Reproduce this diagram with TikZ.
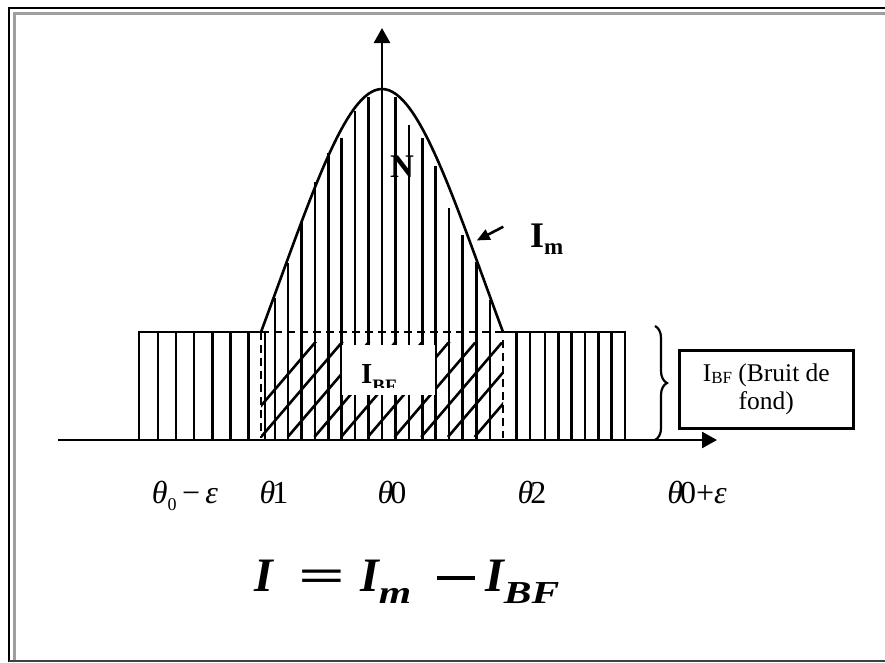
\documentclass[tikz,border=0pt]{standalone}
\usepackage{fontspec}
\setmainfont{Liberation Serif}
\usetikzlibrary{arrows.meta,decorations.pathreplacing}
\tikzset{
  hatch/.style={line width=2.6pt, line cap=butt},
  dashline/.style={line width=2.6pt, dash pattern=on 8pt off 5pt},
  axisarrow/.style={line width=2.6pt, -{Triangle[width=16pt,length=15pt]}},
  lbl/.style={inner sep=0pt, anchor=base},
}
\begin{document}
\begin{tikzpicture}[x=1pt,y=-1pt]
\useasboundingbox (0,0) rectangle (885,662);
% frame
\draw[black, line width=2.8pt] (9,662) -- (9,8) -- (885,8);
\draw[gray!75, line width=2.4pt] (14.5,662) -- (14.5,13.5) -- (885,13.5);
\draw[black!75, line width=2.4pt] (9,661) -- (885,661);

% coordinates
\coordinate (O) at (382,440);
\coordinate (ytip) at (382,28);
\coordinate (xs) at (58,440);
\coordinate (xtip) at (717,440);

% left background box
\draw[hatch] (139,440) -- (139,332) -- (261,332);
\foreach \x in {158,176,194,212.3,230.7,248.3} \draw[hatch] (\x,332) -- (\x,440);
% right background box
\draw[hatch] (503,332) -- (625,332) -- (625,440);
\foreach \x in {516.7,530,545,558.3,571.7,585,598.3,611.7} \draw[hatch] (\x,332) -- (\x,440);
% middle verticals
\foreach \x/\t in {265/332,275/298,288/263,301.5/222,315/182,328.3/153,341.7/138,355/111,368.3/97,395.5/97,409/125,422.3/138,435.7/166,449/208,462.7/235,476.7/262,490/300}
  \draw[hatch] (\x,\t) -- (\x,440);
% curve
\draw[line width=2.6pt] (261,332) .. controls (310,200) and (345,89) .. (382,89)
   .. controls (419,89) and (454,200) .. (503,332);
% dashed
\draw[dashline] (261,332) -- (503,332);
\draw[dashline] (261,332) -- (261,438);
\draw[dashline] (503,340) -- (503,438);
% diagonals
\begin{scope}
\clip (261,342) rectangle (503,437);
\foreach \k in {0,...,9} \draw[hatch] ({234.3+26.7*\k},437) -- ({234.3+26.7*\k+100},320);
\end{scope}
% axes
\draw[line width=2.6pt] (xs) -- (O);
\draw[axisarrow] (O) -- (xtip);
\draw[axisarrow] (O) -- (ytip);

% IBF label inside
\fill[white] (341.7,345) rectangle (435,395);
\begin{scope}
\clip (341.7,345) rectangle (435,387);
\node[lbl, anchor=base west] (ibf) at (361,383) {\fontsize{29}{29}\selectfont\bfseries I\raisebox{-9pt}{\fontsize{19}{19}\selectfont BF}};
\end{scope}

% N
\node[lbl] (N) at (402,177) {\fontsize{33}{33}\selectfont\bfseries N};
% Im
\node[lbl, anchor=base west] (Im) at (530,247) {\fontsize{36}{36}\selectfont\bfseries I\raisebox{-7pt}{\fontsize{23}{23}\selectfont m}};
\coordinate (imA) at (503.3,226.7);
\coordinate (imB) at (476.7,240.5);
\draw[line width=2.6pt, -{Triangle[width=11pt,length=13pt]}] (imA) -- (imB);

% brace
\draw[line width=2.2pt, decorate, decoration={brace, amplitude=12pt}] (655,326) -- (655,440);
% box
\node[draw, line width=2.6pt, minimum width=174pt, minimum height=77.6pt, align=center, inner sep=0pt,
  font=\fontsize{25.5}{28.5}\selectfont] (bf) at (766.3,389.5)
  {I\raisebox{-2pt}{\fontsize{17}{17}\selectfont BF} (Bruit de\\ fond)};

% theta labels
\tikzset{th/.style={lbl, font=\fontsize{32}{32}\selectfont}}
\node[th] (t0m) at (185,503) {\textit{θ}\raisebox{-7pt}{\fontsize{18}{18}\selectfont 0}\,−\,\textit{ε}};
\node[th] (t1) at (274,503) {\textit{θ}\kern-3pt1};
\node[th] (t00) at (392,503) {\textit{θ}\kern-3pt0};
\node[th] (t2) at (532,503) {\textit{θ}\kern-3pt2};
\node[th] (t0p) at (697,503) {\textit{θ}\kern-3pt0+\textit{ε}};

% equation
\tikzset{eqp/.style={inner sep=0pt, anchor=base west, font=\fontsize{48}{48}\selectfont\bfseries\itshape}}
\newcommand{\eqsub}[1]{\raisebox{-12pt}{\fontsize{32}{32}\selectfont\scalebox{1.3}[1]{#1}}}
\node[eqp] (eqI) at (254,591) {I};
\node[eqp, font=\fontsize{46}{46}\selectfont\bfseries] (eqeq) at (298,591) {\scalebox{1.8}[1]{=}};
\node[eqp] (eqIm) at (360,591) {I\eqsub{m}};
\node[inner sep=0pt] (eqminus) at (456,578) {\rule{38pt}{3.4pt}};
\node[eqp] (eqIbf) at (485,591) {I\eqsub{BF}};
\end{tikzpicture}
\end{document}
